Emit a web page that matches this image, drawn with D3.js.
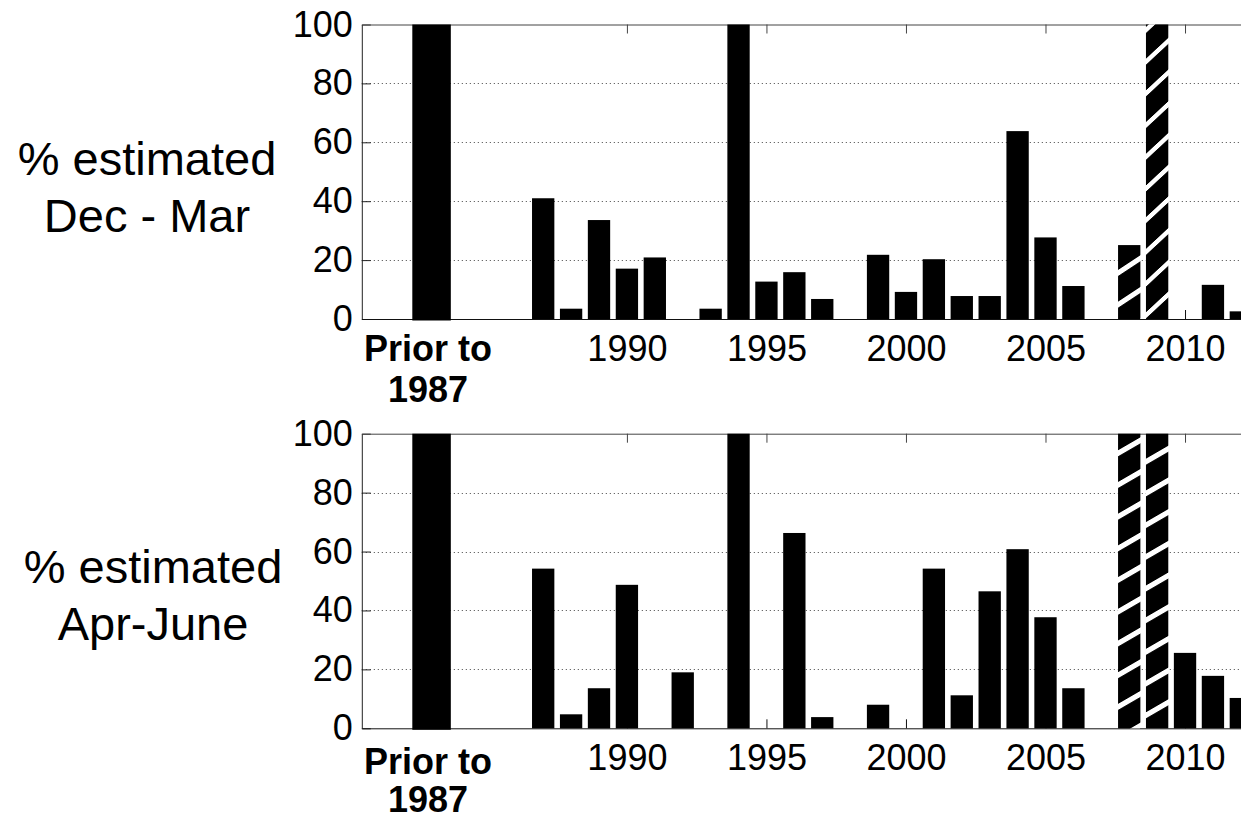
<!DOCTYPE html>
<html>
<head>
<meta charset="utf-8">
<script src="https://cdn.jsdelivr.net/npm/d3@7"></script>
<style>
  html, body { margin: 0; padding: 0; background: #fff; }
  svg { display: block; font-family: "Liberation Sans", Arial, sans-serif; }
</style>
</head>
<body>
<svg id="chart" width="1241" height="820"></svg>
<script>
// Yearly share of values that were estimated, two seasons
const years = [1987, 1988, 1989, 1990, 1991, 1992, 1993, 1994, 1995, 1996, 1997, 1998, 1999,
               2000, 2001, 2002, 2003, 2004, 2005, 2006, 2007, 2008, 2009, 2010, 2011, 2012];
const decMar = [41, 3.5, 33.6, 17.1, 20.9, 0, 3.5, 100, 12.7, 15.9, 6.8, 0, 21.8,
                9.2, 20.3, 7.8, 7.8, 63.8, 27.7, 11.2, 0, 25.1, 100, 0, 11.6, 2.6];
const aprJune = [54.2, 4.75, 13.6, 48.7, 0, 19, 0, 100, 0, 66.3, 3.8, 0, 8,
                 0, 54.2, 11.2, 46.5, 60.8, 37.7, 13.6, 0, 100, 100, 25.6, 17.8, 10.3];
// the "Prior to 1987" block
const priorDecMar = 100;
const priorAprJune = 100;
const priorLabel = ["Prior to", "1987"];
// years drawn with a hatched fill
const hatchedYears = [2008, 2009];
const yTickValues = [0, 20, 40, 60, 80, 100];
const yGridValues = [20, 40, 60, 80];
const xTickValues = [1990, 1995, 2000, 2005, 2010];
const panelLabels = [["% estimated", "Dec - Mar"], ["% estimated", "Apr-June"]];

// ---- layout ----
const svg = d3.select("#chart");
const PRIOR_POS = 1983;       // x position of the prior block
const PRIOR_WIDTH = 1.38;     // in year units
const BAR_WIDTH = 0.8;
const x = d3.scaleLinear().domain([1980.5, 2013.5]).range([361.8, 1282.7]);
const unit = x(1) - x(0);

const panels = [
  { id: "djfm", values: decMar, prior: priorDecMar, top: 24.5, bottom: 319,
    label: panelLabels[0], labelX: 147, labelY: [175, 231.7], priorDy: 42, priorLine: 40.5,
    hatch: { 2008: { slope: 0.66, phase: 273 }, 2009: { slope: 0.93, phase: 61.7 } } },
  { id: "amj", values: aprJune, prior: priorAprJune, top: 433.7, bottom: 728.3,
    label: panelLabels[1], labelX: 153, labelY: [583.3, 640], priorDy: 46, priorLine: 38,
    hatch: { 2008: { slope: 0.58, phase: 453.3 }, 2009: { slope: 0.58, phase: 461.7 } } }
];

const defs = svg.append("defs");
const HATCH_PERIOD = 31.7;
const HATCH_THICK = 6;

panels.forEach(p => {
  const y = d3.scaleLinear().domain([0, 100]).range([p.bottom, p.top]);
  const g = svg.append("g").attr("class", "panel-" + p.id);

  // dotted grid
  g.append("g")
    .selectAll("line")
    .data(yGridValues)
    .join("line")
    .attr("x1", x.range()[0]).attr("x2", x.range()[1])
    .attr("y1", d => Math.round(y(d)) + 0.5).attr("y2", d => Math.round(y(d)) + 0.5)
    .attr("stroke", "#444").attr("stroke-width", 1)
    .attr("stroke-dasharray", "1,3");

  // left axis with inward ticks
  const yAxis = d3.axisLeft(y).tickValues(yTickValues).tickSize(-9).tickSizeOuter(0).tickPadding(9);
  const ya = g.append("g").attr("transform", `translate(${x.range()[0]},0)`).call(yAxis);
  ya.selectAll("text").attr("font-size", 36).attr("font-family", "Liberation Sans, Arial, sans-serif").attr("fill", "#000");
  ya.selectAll("line, path").attr("stroke", "#222");

  // bottom axis
  const xAxis = d3.axisBottom(x).tickValues(xTickValues).tickFormat(d3.format("d"))
    .tickSize(-9).tickSizeOuter(0).tickPadding(16);
  const xa = g.append("g").attr("transform", `translate(0,${p.bottom})`).call(xAxis);
  xa.selectAll("text").attr("font-size", 36).attr("font-family", "Liberation Sans, Arial, sans-serif").attr("fill", "#000");
  xa.selectAll("line, path").attr("stroke", "#111");

  // top edge with inward ticks
  const xTop = d3.axisTop(x).tickValues(xTickValues).tickFormat("").tickSize(-9).tickSizeOuter(0);
  g.append("g").attr("transform", `translate(0,${p.top})`).call(xTop)
    .selectAll("line, path").attr("stroke", "#444");

  // right edge
  const yRight = d3.axisRight(y).tickValues(yTickValues).tickFormat("").tickSize(-9).tickSizeOuter(0);
  g.append("g").attr("transform", `translate(${x.range()[1]},0)`).call(yRight)
    .selectAll("line, path").attr("stroke", "#222");

  // hatch patterns
  hatchedYears.forEach(yr => {
    const h = p.hatch[yr];
    const left = x(yr) - BAR_WIDTH * unit / 2;
    const ang = Math.atan(h.slope) * 180 / Math.PI;
    const pat = defs.append("pattern")
      .attr("id", `hatch-${p.id}-${yr}`)
      .attr("patternUnits", "userSpaceOnUse")
      .attr("width", 60).attr("height", HATCH_PERIOD)
      .attr("patternTransform", `translate(${left},${h.phase - HATCH_THICK / 2}) skewY(${-ang})`);
    pat.append("rect").attr("width", 60).attr("height", HATCH_PERIOD).attr("fill", "#000");
    pat.append("rect").attr("width", 60).attr("height", HATCH_THICK).attr("fill", "#fff");
  });

  // bars
  const rows = years.map((yr, i) => ({ year: yr, value: p.values[i] })).filter(d => d.value > 0);
  g.append("g")
    .selectAll("rect")
    .data(rows)
    .join("rect")
    .attr("x", d => x(d.year) - BAR_WIDTH * unit / 2)
    .attr("width", BAR_WIDTH * unit)
    .attr("y", d => y(d.value))
    .attr("height", d => y(0) - y(d.value))
    .attr("fill", d => hatchedYears.includes(d.year) ? `url(#hatch-${p.id}-${d.year})` : "#000");

  // prior block
  g.append("rect")
    .attr("x", x(PRIOR_POS) - PRIOR_WIDTH * unit / 2)
    .attr("width", PRIOR_WIDTH * unit)
    .attr("y", y(p.prior))
    .attr("height", y(0) - y(p.prior) + 1.5)
    .attr("fill", "#000");

  // prior label
  g.append("text")
    .attr("x", x(PRIOR_POS) - 3.5)
    .attr("y", p.bottom + p.priorDy)
    .attr("text-anchor", "middle")
    .attr("font-size", 36).attr("font-weight", "bold")
    .selectAll("tspan")
    .data(priorLabel)
    .join("tspan")
    .attr("x", x(PRIOR_POS) - 3.5)
    .attr("dy", (d, i) => i === 0 ? 0 : p.priorLine)
    .text(d => d);

  // panel label
  g.append("g")
    .selectAll("text")
    .data(p.label)
    .join("text")
    .attr("x", p.labelX)
    .attr("y", (d, i) => p.labelY[i])
    .attr("text-anchor", "middle")
    .attr("font-size", 47)
    .text(d => d);
});
</script>
</body>
</html>
